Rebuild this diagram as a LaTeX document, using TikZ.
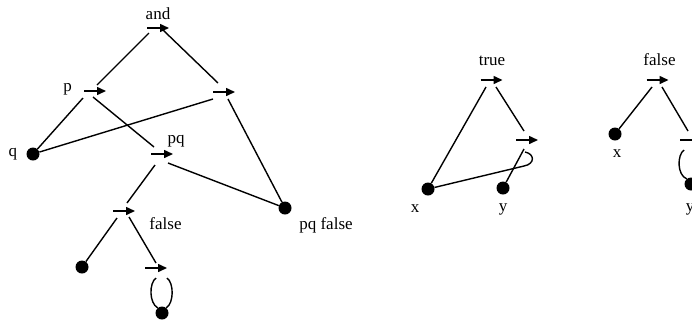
\documentclass[tikz,border=0pt]{standalone}
\usepackage{fontspec}
\setmainfont{Liberation Serif}
\usetikzlibrary{arrows.meta}
\begin{document}
\begin{tikzpicture}[x=1pt,y=-1pt,
  edge/.style={line width=1.4pt},
  dot/.style={circle,fill=black,inner sep=0pt,minimum size=13pt},
  lbl/.style={font=\fontsize{17}{20}\selectfont,inner sep=0pt,anchor=base},
  glyph/.style={line width=1.5pt,-{Triangle[length=9pt,width=8pt]}}]
\useasboundingbox (0,0) rectangle (692,322);

% ---- left graph: and ----
\coordinate (and) at (158,28);
\coordinate (p)   at (95,91);
\coordinate (r)   at (224,92);
\coordinate (pq)  at (162,154);
\coordinate (f)   at (124,211);
\coordinate (g)   at (156,268);
\node[dot] (q)   at (33,154) {};
\node[dot] (pqf) at (285,208) {};
\node[dot] (da)  at (82,267) {};
\node[dot] (db)  at (162,313) {};

\node[lbl] (land)  at (158,19)  {and};
\node[lbl] (lp)    at (67.5,91) {p};
\node[lbl] (lq)    at (13,156)  {q};
\node[lbl] (lpq)   at (176,143) {pq};
\node[lbl] (lf)    at (165.5,229) {false};
\node[lbl] (lpqf)  at (326,229) {pq false};

\draw[edge] ([shift={(-9,5)}]and) -- ([shift={(2,-6)}]p);
\draw[edge] ([shift={(5,2)}]and) -- ([shift={(-6,-9)}]r);
\draw[edge] ([shift={(-12,7)}]p) -- (q);
\draw[edge] ([shift={(-2,6)}]p) -- ([shift={(-8,-7)}]pq);
\draw[edge] ([shift={(-11,7)}]r) -- (q);
\draw[edge] ([shift={(4,7)}]r) -- (pqf);
\draw[edge] ([shift={(-7,11)}]pq) -- ([shift={(3,-8)}]f);
\draw[edge] ([shift={(6,9)}]pq) -- (pqf);
\draw[edge] ([shift={(-7,7)}]f) -- (da);
\draw[edge] ([shift={(5,6)}]f) -- ([shift={(0,-5)}]g);
\draw[edge] ([shift={(0,10)}]g) .. controls ([shift={(-7,15)}]g) and ([shift={(-7,35)}]g) .. (db.130);
\draw[edge] ([shift={(11,10)}]g) .. controls ([shift={(18,15)}]g) and ([shift={(18,35)}]g) .. (db.50);

% ---- middle graph: true ----
\coordinate (t) at (491.5,80);
\coordinate (u) at (527,140);
\node[dot] (xm) at (428,189) {};
\node[dot] (ym) at (503,188) {};
\node[lbl] (lt)  at (492,65)  {true};
\node[lbl] (lxm) at (415,212) {x};
\node[lbl] (lym) at (503,211) {y};

\draw[edge] ([shift={(-5.5,7)}]t) -- (xm);
\draw[edge] ([shift={(4.5,7)}]t) -- ([shift={(-3,-9)}]u);
\draw[edge] ([shift={(-3,9)}]u) -- (ym);
\draw[edge] ([shift={(-2,12)}]u) .. controls ([shift={(8,14)}]u) and ([shift={(8,24)}]u) .. ([shift={(-3,26)}]u) -- (xm);

% ---- right graph: false ----
\coordinate (v) at (657.5,80);
\coordinate (w) at (691,140);
\node[dot] (xr) at (615,134) {};
\node[dot] (yr) at (691,184) {};
\node[lbl] (lv)  at (659.5,65) {false};
\node[lbl] (lxr) at (617,157)  {x};
\node[lbl] (lyr) at (690,211)  {y};

\draw[edge] ([shift={(-5.5,7)}]v) -- (xr);
\draw[edge] ([shift={(4.5,7)}]v) -- ([shift={(-3,-9)}]w);
\draw[edge] ([shift={(-7,10)}]w) .. controls ([shift={(-14,15)}]w) and ([shift={(-14,35)}]w) .. (yr.130);
\draw[edge] ([shift={(4,10)}]w) .. controls ([shift={(11,15)}]w) and ([shift={(11,35)}]w) .. (yr.50);

% arrow glyphs at the vertices
\foreach \c in {and,p,r,pq,f,g,t,u,v,w}
  \draw[glyph] ([xshift=-11pt]\c) -- ([xshift=11pt]\c);
\end{tikzpicture}
\end{document}
